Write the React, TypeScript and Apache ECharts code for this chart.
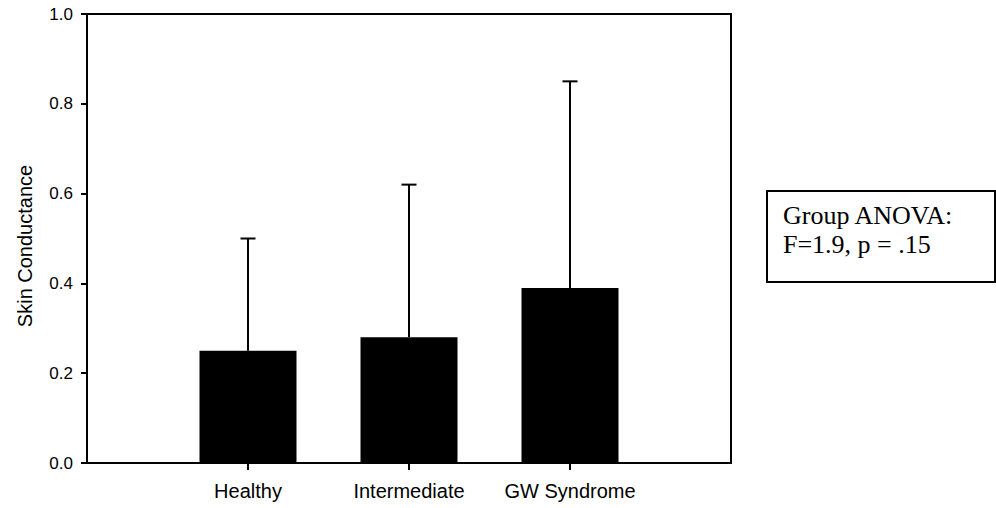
import React, { useEffect, useRef } from "react";
import * as echarts from "echarts";

const categories = ["", "Healthy", "Intermediate", "GW Syndrome", ""];
const means = ["-", 0.25, 0.28, 0.39, "-"];
const upperErrors = [null, 0.5, 0.62, 0.85, null];
const yTicks = [0, 0.2, 0.4, 0.6, 0.8, 1.0];
const annotationLines = ["Group ANOVA:", "F=1.9, p = .15"];

export default function App() {
  const ref = useRef<HTMLDivElement>(null);
  useEffect(() => {
    if (!ref.current) return;
    const chart = echarts.init(ref.current, null, { renderer: "svg" });
    const errData = upperErrors
      .map((v, i) => (v == null ? null : [i, means[i] as number, v]))
      .filter((d) => d != null);
    chart.setOption({
      animation: false,
      backgroundColor: "#fff",
      grid: {
        left: 87,
        top: 14,
        right: 265,
        bottom: 45,
        show: true,
        borderColor: "#000",
        borderWidth: 2,
        backgroundColor: "transparent",
      },
      xAxis: {
        type: "category",
        data: categories,
        boundaryGap: false,
        axisLine: { lineStyle: { color: "#000", width: 2 } },
        axisTick: {
          show: true,
          length: 7,
          lineStyle: { color: "#000", width: 2 },
          interval: (i: number) => i >= 1 && i <= 3,
        },
        axisLabel: {
          interval: (i: number) => i >= 1 && i <= 3,
          color: "#000",
          fontFamily: "Liberation Sans, Arial",
          fontSize: 20,
          margin: 18,
        },
        splitLine: { show: false },
      },
      yAxis: {
        type: "value",
        min: 0,
        max: 1,
        interval: 0.2,
        axisLine: { show: true, lineStyle: { color: "#000", width: 2 } },
        axisTick: { show: true, length: 6, lineStyle: { color: "#000", width: 2 } },
        axisLabel: {
          color: "#000",
          fontFamily: "Liberation Sans, Arial",
          fontSize: 17,
          margin: 14,
          formatter: (v: number) => (yTicks.some((t) => Math.abs(t - v) < 1e-9) ? v.toFixed(1) : ""),
        },
        splitLine: { show: false },
      },
      series: [
        {
          type: "bar",
          data: means,
          barWidth: 97,
          itemStyle: { color: "#000" },
          z: 2,
        },
        {
          type: "custom",
          data: errData,
          z: 3,
          renderItem: (params: any, api: any) => {
            const x = api.value(0);
            const base = api.coord([x, api.value(1)]);
            const top = api.coord([x, api.value(2)]);
            const hw = 7.5;
            return {
              type: "group",
              children: [
                {
                  type: "line",
                  shape: { x1: base[0], y1: base[1], x2: top[0], y2: top[1] },
                  style: { stroke: "#000", lineWidth: 2 },
                },
                {
                  type: "line",
                  shape: { x1: top[0] - hw, y1: top[1], x2: top[0] + hw, y2: top[1] },
                  style: { stroke: "#000", lineWidth: 2 },
                },
              ],
            };
          },
        },
      ],
      graphic: [
        {
          type: "text",
          x: 25,
          y: 246,
          rotation: Math.PI / 2,
          style: {
            text: "Skin Conductance",
            fill: "#000",
            font: "20px 'Liberation Sans', Arial",
            align: "center",
            verticalAlign: "middle",
          },
        },
        {
          type: "rect",
          shape: { x: 767, y: 191, width: 228, height: 91 },
          style: { fill: "#fff", stroke: "#000", lineWidth: 2 },
        },
        {
          type: "text",
          x: 783,
          y: 215,
          style: {
            text: annotationLines[0],
            fill: "#000",
            font: "26px 'Liberation Serif', 'Times New Roman', serif",
            verticalAlign: "middle",
          },
        },
        {
          type: "text",
          x: 783,
          y: 244,
          style: {
            text: annotationLines[1],
            fill: "#000",
            font: "26px 'Liberation Serif', 'Times New Roman', serif",
            verticalAlign: "middle",
          },
        },
      ],
    });
    return () => chart.dispose();
  }, []);
  return <div ref={ref} style={{ width: 996, height: 508, position: "absolute", left: 0, top: 0 }} />;
}
